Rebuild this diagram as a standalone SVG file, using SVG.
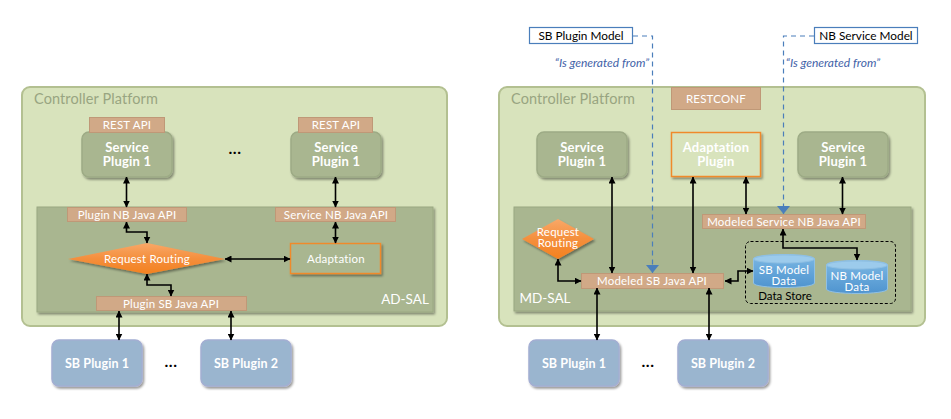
<svg xmlns="http://www.w3.org/2000/svg" width="951" height="419" viewBox="0 0 951 419">
<style>
text{font-family:Lato,"Noto Sans",sans-serif;text-anchor:middle}
.plat{fill:#d8e3bc;stroke:#b3c091;stroke-width:2}
.sal{fill:#a9b690;stroke:#9aa882;stroke-width:1;filter:url(#sh)}
.api{fill:#d1a987;stroke:#bf9877;stroke-width:1}
.svc{fill:#a9b690;stroke:#9dab85;stroke-width:1.5;filter:url(#sh)}
.sb{fill:#9ab5cf;stroke:#a3aed2;stroke-width:1.5;filter:url(#sh)}
.ad{stroke:#f08a2c;stroke-width:1.5;filter:url(#sh)}
.t{fill:#fff;font-size:11.5px;letter-spacing:.2px}
.b{fill:#fff;font-size:13px;font-weight:700;letter-spacing:.2px}
.sbt{font-size:12.5px;letter-spacing:.1px}
.cp{fill:#98a581;font-size:14.5px;text-anchor:start;letter-spacing:.1px}
.sal-l{fill:#fff;font-size:13.5px}
.model{fill:#fff;stroke:#4a7ebb;stroke-width:1.2}
.m{fill:#000;font-size:11.8px}
.gen{fill:#3f62a8;font-size:12px;font-style:italic}
.dots{fill:#000;font-size:16px;font-weight:700;letter-spacing:.5px}
.c{fill:none;stroke:#000;stroke-width:1.6;marker-start:url(#as);marker-end:url(#ae)}
.d{fill:none;stroke:#4a7ebb;stroke-width:1.2;stroke-dasharray:5 4}
.cyl{fill:url(#cg);stroke:#8fc0e4;stroke-width:1}
</style>
<defs>
<filter id="sh" x="-10%" y="-15%" width="125%" height="135%"><feDropShadow dx="1.5" dy="2" stdDeviation="1.2" flood-color="#000" flood-opacity=".4"/></filter>
<marker id="ae" markerWidth="7" markerHeight="7" refX="6.5" refY="3.5" orient="auto" markerUnits="userSpaceOnUse"><path d="M0 0L7 3.5L0 7z" fill="#000"/></marker>
<marker id="as" markerWidth="7" markerHeight="7" refX=".5" refY="3.5" orient="auto" markerUnits="userSpaceOnUse"><path d="M7 0L0 3.5L7 7z" fill="#000"/></marker>
<marker id="bl" markerWidth="8" markerHeight="13" refX="8" refY="6.5" orient="auto" markerUnits="userSpaceOnUse"><path d="M0 0L8 6.5L0 13z" fill="#4a7ebb"/></marker>
<linearGradient id="og" x1="0" y1="0" x2="0" y2="1"><stop offset="0" stop-color="#f9a868"/><stop offset=".5" stop-color="#f48f3d"/><stop offset="1" stop-color="#f4811f"/></linearGradient>
<linearGradient id="cg" x1="0" y1="0" x2="0" y2="1"><stop offset="0" stop-color="#7cb8e4"/><stop offset="1" stop-color="#4f94cf"/></linearGradient>
</defs>

<g id="platform-left"><rect class="plat" x="22" y="87" width="425" height="239" rx="8"/><text class="cp" x="34" y="104">Controller Platform</text></g>
<g id="platform-right"><rect class="plat" x="499" y="87" width="426" height="239" rx="8"/><text class="cp" x="511" y="104">Controller Platform</text></g>
<g id="ad-sal"><rect class="sal" x="37" y="207" width="396" height="105"/><text class="sal-l" x="405" y="304">AD-SAL</text></g>
<g id="md-sal"><rect class="sal" x="514" y="207" width="397" height="104"/><text class="sal-l" x="545" y="303">MD-SAL</text></g>

<g id="l-svc1"><rect class="svc" x="82" y="132" width="90" height="45" rx="7"/><text class="b" x="127" y="152">Service</text><text class="b" x="127" y="166">Plugin 1</text></g>
<g id="l-rest1"><rect class="api" x="89.500" y="117.500" width="75" height="15"/><text class="t" x="127" y="129">REST API</text></g>
<g id="l-svc2"><rect class="svc" x="291" y="132" width="90" height="45" rx="7"/><text class="b" x="336" y="152">Service</text><text class="b" x="336" y="166">Plugin 1</text></g>
<g id="l-rest2"><rect class="api" x="298.500" y="117.500" width="74" height="15"/><text class="t" x="336" y="129">REST API</text></g>
<g id="l-dots1"><text class="dots" x="235" y="154">...</text></g>
<g id="l-nb1"><rect class="api" x="67.500" y="207.500" width="119" height="14"/><text class="t" x="127" y="219">Plugin NB Java API</text></g>
<g id="l-nb2"><rect class="api" x="275.500" y="207.500" width="120" height="14"/><text class="t" x="336" y="219">Service NB Java API</text></g>
<g id="l-rr"><path d="M68 259L147 243L225 259L147 274z" fill="url(#og)" filter="url(#sh)"/><text class="t" x="147" y="263">Request Routing</text></g>
<g id="l-adapt"><rect class="ad" x="290.500" y="243.500" width="90" height="30" fill="#a9b690"/><text class="t" x="336" y="263">Adaptation</text></g>
<g id="l-sbapi"><rect class="api" x="96.500" y="296.500" width="150" height="14"/><text class="t" x="171" y="308">Plugin SB Java API</text></g>
<g id="l-sb1"><rect class="sb" x="52" y="340" width="90" height="46" rx="7"/><text class="b sbt" x="97" y="368">SB Plugin 1</text></g>
<g id="l-sb2"><rect class="sb" x="201" y="340" width="90" height="46" rx="7"/><text class="b sbt" x="246" y="368">SB Plugin 2</text></g>
<g id="l-dots2"><text class="dots" x="171" y="367">...</text></g>

<g id="r-sbmodel"><rect class="model" x="529.500" y="27.500" width="103" height="16"/><text class="m" x="581" y="40">SB Plugin Model</text></g>
<g id="r-nbmodel"><rect class="model" x="814.500" y="27.500" width="103" height="16"/><text class="m" x="866" y="40">NB Service Model</text></g>
<g id="r-gen1"><text class="gen" x="602" y="67">“Is generated from”</text></g>
<g id="r-gen2"><text class="gen" x="833" y="67">“Is generated from”</text></g>
<g id="r-restconf"><rect class="api" x="671.500" y="87.500" width="89" height="22"/><text class="t" x="716" y="103">RESTCONF</text></g>
<g id="r-svc1"><rect class="svc" x="537" y="132" width="90" height="45" rx="7"/><text class="b" x="582" y="152">Service</text><text class="b" x="582" y="166">Plugin 1</text></g>
<g id="r-adapt"><rect class="ad" x="671.500" y="132.500" width="89" height="44" fill="#d8e3bc"/><text class="b" x="716" y="152">Adaptation</text><text class="b" x="716" y="166">Plugin</text></g>
<g id="r-svc2"><rect class="svc" x="798" y="132" width="90" height="45" rx="7"/><text class="b" x="843" y="152">Service</text><text class="b" x="843" y="166">Plugin 1</text></g>
<g id="r-nbapi"><rect class="api" x="702.500" y="214.500" width="163" height="14"/><text class="t" x="784" y="226">Modeled Service NB Java API</text></g>
<g id="r-rr"><path d="M522 239L558 219L594 239L558 259z" fill="url(#og)" filter="url(#sh)"/><text class="t" x="558" y="236">Request</text><text class="t" x="558" y="247">Routing</text></g>
<g id="r-sbapi"><rect class="api" x="581.500" y="273.500" width="142" height="15"/><text class="t" x="652" y="285">Modeled SB Java API</text></g>
<g id="r-store"><rect x="745.500" y="241.500" width="150" height="62" rx="5" fill="none" stroke="#000" stroke-dasharray="3 2"/><text x="785" y="300" font-size="11.500" fill="#000">Data Store</text></g>
<g id="r-cyl1"><path class="cyl" d="M753.500 259c0-6 61-6 61 0v24c0 6-61 6-61 0z"/><ellipse cx="784" cy="259" rx="30.500" ry="4" fill="#9ccbec" stroke="#8fc0e4"/><text class="t" x="784" y="274">SB Model</text><text class="t" x="784" y="285">Data</text></g>
<g id="r-cyl2"><path class="cyl" d="M826.500 265c0-6 61-6 61 0v24c0 6-61 6-61 0z"/><ellipse cx="857" cy="265" rx="30.500" ry="4" fill="#9ccbec" stroke="#8fc0e4"/><text class="t" x="857" y="280">NB Model</text><text class="t" x="857" y="291">Data</text></g>
<g id="r-sb1"><rect class="sb" x="529" y="340" width="90" height="46" rx="7"/><text class="b sbt" x="574" y="368">SB Plugin 1</text></g>
<g id="r-sb2"><rect class="sb" x="678" y="340" width="90" height="46" rx="7"/><text class="b sbt" x="723" y="368">SB Plugin 2</text></g>
<g id="r-dots"><text class="dots" x="648" y="367">...</text></g>

<g id="connectors">
<path class="c" d="M126.500 177V207"/>
<path class="c" d="M335.500 177V207"/>
<path class="c" d="M126.500 222V232H147V243"/>
<path class="c" d="M147 274V285H171V296"/>
<path class="c" d="M335.500 222V243"/>
<path class="c" d="M225 259H290"/>
<path class="c" d="M119 311V340"/>
<path class="c" d="M231 311V340"/>
<path class="c" d="M612 177V273"/>
<path class="c" d="M693 177V273"/>
<path class="c" d="M746 177V214"/>
<path class="c" d="M842.500 177V214"/>
<path class="c" d="M558 259V281H581"/>
<path class="c" d="M597 288V340"/>
<path class="c" d="M709 288V340"/>
<path class="c" d="M725 281H738V271H753"/>
<path class="c" d="M783 229V248H857V260"/>
<path class="d" marker-end="url(#bl)" d="M633 36H652.500V273"/>
<path class="d" marker-end="url(#bl)" d="M814 36H783.500V214"/>
</g>
</svg>
